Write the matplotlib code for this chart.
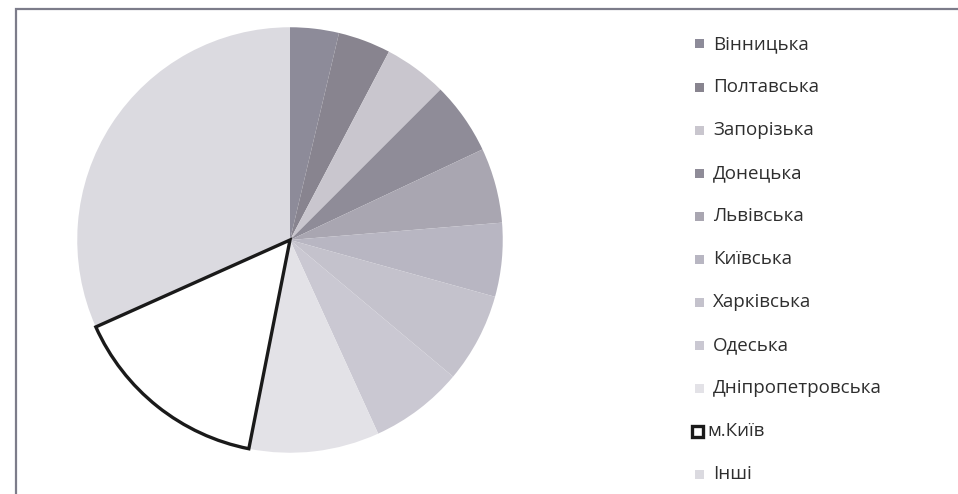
import matplotlib.pyplot as plt
from matplotlib.patches import Rectangle

# дані (частки, %), зчитані з діаграми
regions = ['Вінницька', 'Полтавська', 'Запорізька', 'Донецька', 'Львівська',
           'Київська', 'Харківська', 'Одеська', 'Дніпропетровська', 'м.Київ', 'Інші']
shares = [3.7, 4.0, 4.8, 5.5, 5.7, 5.6, 6.8, 7.1, 9.9, 15.2, 31.7]
colors = ['#8d8b99', '#88848f', '#c9c6ce', '#8f8c98', '#a9a6b1',
          '#b8b6c2', '#c4c2cc', '#cac8d2', '#e3e2e7', '#ffffff', '#dbdae0']

W, H = 958, 494
fig = plt.figure(figsize=(W / 100, H / 100), dpi=100)

# рамка діаграми
fig.add_artist(Rectangle((16 / W, -0.05), 1.2, (H - 9) / H + 0.05,
                         transform=fig.transFigure, fill=False,
                         edgecolor='#7c7c8a', lw=1.6))

# кругова діаграма
cx, cy, r = 290, 240, 217
ax = fig.add_axes([(cx - r) / W, (H - cy - r) / H, 2 * r / W, 2 * r / H])
wedges, _ = ax.pie(shares, colors=colors, startangle=90, counterclock=False,
                   radius=1, wedgeprops=dict(linewidth=0))
kyiv = wedges[regions.index('м.Київ')]
kyiv.set_edgecolor('#1a1a1a')
kyiv.set_linewidth(2.4)
kyiv.set_zorder(5)
ax.set_xlim(-1.02, 1.02)
ax.set_ylim(-1.02, 1.02)
ax.set_aspect('equal')
ax.axis('off')

# легенда
y0, dy = 44, 43
for i, (name, col) in enumerate(zip(regions, colors)):
    y = y0 + i * dy
    if name == 'м.Київ':
        fig.add_artist(Rectangle((692 / W, (H - y - 6) / H), 11 / W, 11 / H,
                                 transform=fig.transFigure, facecolor='white',
                                 edgecolor='#1a1a1a', lw=2.4))
        tx = 707
    else:
        fig.add_artist(Rectangle((695 / W, (H - y - 4.5) / H), 9 / W, 9 / H,
                                 transform=fig.transFigure, facecolor=col,
                                 edgecolor='none'))
        tx = 713
    fig.text(tx / W, (H - y) / H, name, fontsize=13.5, family='Open Sans',
             color='#2e2e2e', va='center', ha='left')

fig.savefig('out.png', dpi=100)
